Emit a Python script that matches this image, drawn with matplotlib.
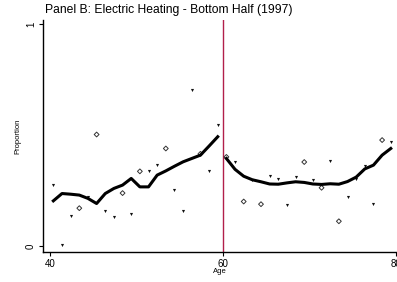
import matplotlib.pyplot as plt

# Cell means by age (markers) and smoothed fits on each side of the cutoff
ages_left = [40.4, 41.4, 42.4, 43.4, 44.4, 45.4, 46.4, 47.4, 48.4, 49.4,
             50.4, 51.4, 52.4, 53.4, 54.4, 55.4, 56.4, 57.4, 58.4, 59.4]
share_left = [0.274, 0.002, 0.134, 0.170, 0.221, 0.502, 0.157, 0.128, 0.238, 0.143,
              0.336, 0.336, 0.364, 0.439, 0.253, 0.157, 0.702, 0.415, 0.336, 0.543]
kind_left = ['t', 't', 't', 'd', 't', 'd', 't', 't', 'd', 't',
             'd', 't', 't', 'd', 't', 't', 't', 'd', 't', 't']
fit_left = [0.203, 0.236, 0.233, 0.229, 0.214, 0.191, 0.236, 0.259, 0.274, 0.304,
            0.266, 0.266, 0.319, 0.338, 0.359, 0.379, 0.394, 0.409, 0.450, 0.492]

ages_right = [60.4, 61.4, 62.4, 63.4, 64.4, 65.4, 66.4, 67.4, 68.4, 69.4,
              70.4, 71.4, 72.4, 73.4, 74.4, 75.4, 76.4, 77.4, 78.4, 79.4]
share_right = [0.401, 0.379, 0.200, 0.298, 0.188, 0.316, 0.302, 0.184, 0.310, 0.378,
               0.295, 0.262, 0.383, 0.111, 0.220, 0.301, 0.360, 0.189, 0.477, 0.469]
kind_right = ['d', 't', 'd', 't', 'd', 't', 't', 't', 't', 'd',
              't', 'd', 't', 'd', 't', 't', 't', 't', 'd', 't']
fit_right = [0.394, 0.345, 0.314, 0.298, 0.289, 0.279, 0.278, 0.284, 0.289, 0.286,
             0.279, 0.277, 0.280, 0.278, 0.290, 0.310, 0.347, 0.364, 0.409, 0.439]

cutoff = 60
x_ticks = [40, 60, 80]
y_ticks = [0, 1]

plt.rcParams['font.family'] = ['Liberation Sans', 'DejaVu Sans']

fig = plt.figure(figsize=(3.97, 2.82), dpi=100)
ax = fig.add_axes([0.108, 0.106, 0.892, 0.823])

for ages, share, kind in [(ages_left, share_left, kind_left),
                          (ages_right, share_right, kind_right)]:
    xd = [a for a, k in zip(ages, kind) if k == 'd']
    yd = [s for s, k in zip(share, kind) if k == 'd']
    xt = [a for a, k in zip(ages, kind) if k == 't']
    yt = [s for s, k in zip(share, kind) if k == 't']
    ax.scatter(xd, yd, marker='D', s=6, facecolors='none',
               edgecolors='#333333', linewidths=0.7, zorder=3)
    ax.scatter(xt, yt, marker='v', s=5, color='#111111', linewidths=0, zorder=3)

ax.plot(ages_left, fit_left, color='black', lw=2.2, zorder=4)
ax.plot(ages_right, fit_right, color='black', lw=2.2, zorder=4)

ax.axvline(cutoff, color='#b21f4b', lw=1.0, zorder=2)

ax.set_xlim(39.19, 80.12)
ax.set_ylim(-0.028, 1.018)
ax.set_xticks(x_ticks)
ax.set_yticks(y_ticks)
ax.set_yticklabels([str(t) for t in y_ticks], rotation=90, va='center')
ax.tick_params(axis='both', length=3, width=0.8, labelsize=7, pad=2)

for side in ['top', 'right']:
    ax.spines[side].set_visible(False)
ax.spines['left'].set_linewidth(1.0)
ax.spines['bottom'].set_linewidth(1.0)

ax.set_xlabel('Age', fontsize=5.5, labelpad=-1)
ax.set_ylabel('Proportion', fontsize=5.5, labelpad=3)

fig.text(0.113, 0.985, 'Panel B: Electric Heating - Bottom Half (1997)',
         fontsize=8.7, ha='left', va='top')

fig.savefig('out.png', dpi=100)
